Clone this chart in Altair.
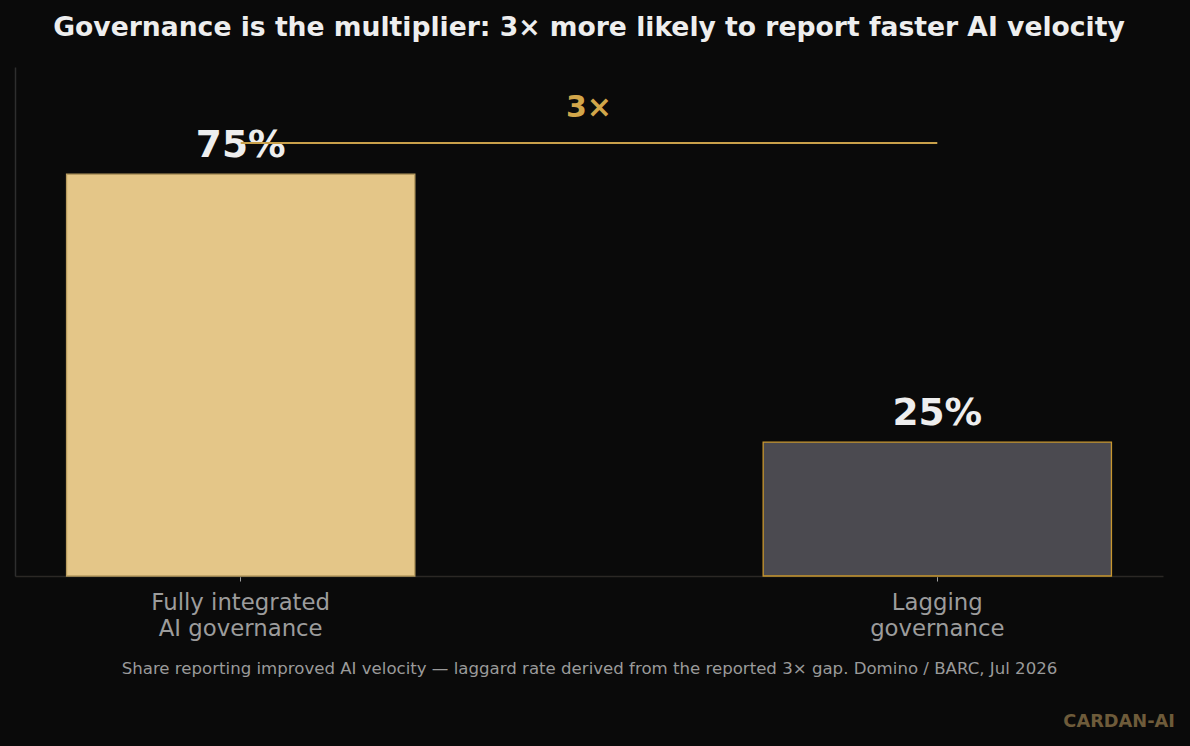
import altair as alt
import pandas as pd

# Survey groups and the share in each reporting improved AI velocity
categories = ["Fully integrated|AI governance", "Lagging|governance"]
shares = [75, 25]
bar_fills = ["#e4c688", "#4b4a50"]
bar_strokes = ["#b89c5f", "#c8962e"]

# Gap annotation drawn between the two groups
gap_text = ["3×"]
gap_line_level = [80.8]
gap_text_level = [87.4]

title = "Governance is the multiplier: 3× more likely to report faster AI velocity"
footer = ("Share reporting improved AI velocity — laggard rate derived from the "
          "reported 3× gap. Domino / BARC, Jul 2026")
brand = ["CARDAN-AI"]

W, H = 1148, 509
FONT = "DejaVu Sans"

df = pd.DataFrame({
    "group": categories,
    "share": shares,
    "label": [f"{v}%" for v in shares],
})

x_enc = alt.X(
    "group:N",
    sort=categories,
    scale=alt.Scale(paddingInner=0.5, paddingOuter=0.074),
    axis=alt.Axis(
        title=footer,
        labelExpr="split(datum.value, '|')",
        labelAngle=0,
        labelFont=FONT,
        labelFontSize=22.8,
        labelColor="#9c9c9c",
        labelLineHeight=26,
        labelPadding=10,
        tickSize=5,
        tickColor="#a0a0a0",
        domainColor="#2b2825",
        domainWidth=1.5,
        titleFont=FONT,
        titleFontSize=16.6,
        titleFontWeight="normal",
        titleColor="#9a9a9a",
        titlePadding=21,
    ),
)
y_enc = alt.Y(
    "share:Q",
    scale=alt.Scale(domain=[0, 95], nice=False),
    axis=alt.Axis(labels=False, ticks=False, grid=False, title=None,
                  domainColor="#2e2e2e", domainWidth=1.5),
)

bars = alt.Chart(df).mark_bar(strokeWidth=1.3).encode(
    x=x_enc,
    y=y_enc,
    color=alt.Color("group:N", scale=alt.Scale(domain=categories, range=bar_fills), legend=None),
    stroke=alt.Stroke("group:N", scale=alt.Scale(domain=categories, range=bar_strokes), legend=None),
)

values = alt.Chart(df).mark_text(
    font=FONT, fontSize=37.5, fontWeight="bold", color="#eeeeee",
    baseline="middle", dy=-28,
).encode(x=alt.X("group:N", sort=categories), y="share:Q", text="label:N")

gap_df = pd.DataFrame({
    "start": [categories[0]],
    "end": [categories[1]],
    "level": gap_line_level,
})
gap_line = alt.Chart(gap_df).mark_rule(color="#c9a04a", strokeWidth=2).encode(
    x=alt.X("start:N", sort=categories),
    x2="end:N",
    y="level:Q",
)

gap_label = alt.Chart(pd.DataFrame({"t": gap_text, "level": gap_text_level})).mark_text(
    font=FONT, fontSize=30, fontWeight="bold", color="#d2a64a", baseline="middle",
).encode(x=alt.value(W / 2), y="level:Q", text="t:N")

brand_mark = alt.Chart(pd.DataFrame({"t": brand})).mark_text(
    font=FONT, fontSize=17.8, fontWeight="bold", color="#6e5b3a",
    align="right", baseline="middle",
).encode(x=alt.value(W + 12), y=alt.value(H + 146), text="t:N")

chart = (
    alt.layer(bars, values, gap_line, gap_label, brand_mark)
    .properties(
        width=W,
        height=H,
        background="#0a0a0a",
        autosize=alt.AutoSizeParams(type="none"),
        padding={"left": 15, "top": 67, "right": 27, "bottom": 170},
        title=alt.TitleParams(
            text=title, font=FONT, fontSize=26.6, fontWeight="bold",
            color="#eeeeee", anchor="middle", offset=25,
        ),
    )
    .configure_view(stroke=None)
)

chart.save("out.html", embed_options={"renderer": "svg", "actions": False})
